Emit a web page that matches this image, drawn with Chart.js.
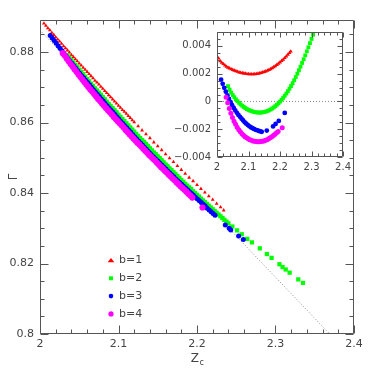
<!DOCTYPE html>
<html><head><meta charset="utf-8">
<script src="https://cdn.jsdelivr.net/npm/chart.js@4.4.0/dist/chart.umd.min.js"></script>
<style>
html,body{margin:0;padding:0;background:#fff;}
#wrap{position:relative;width:374px;height:374px;overflow:hidden;}
#main{position:absolute;left:0;top:0;}
#inset{position:absolute;left:160px;top:20px;}
</style></head><body>
<div id="wrap"><canvas id="main" width="374" height="374"></canvas><canvas id="inset" width="195" height="160"></canvas></div>
<script>
// ---------------- data ----------------
const xTickVals = [2, 2.1, 2.2, 2.3, 2.4];
const xTickLabels = ['2', '2.1', '2.2', '2.3', '2.4'];
const yTickVals = [0.8, 0.82, 0.84, 0.86, 0.88];
const yTickLabels = ['0.8', '0.82', '0.84', '0.86', '0.88'];
const insetYTickVals = [-0.004, -0.002, 0, 0.002, 0.004];
const insetYTickLabels = ['\u22120.004', '\u22120.002', '0', '0.002', '0.004'];
const seriesNames = ['b=1', 'b=2', 'b=3', 'b=4'];

// reference (dotted) line in the main panel
const refLineZ = [2.0, 2.369];
const refLineGamma = [0.8862, 0.8];
// zero line in the inset
const zeroLineZ = [2.0, 2.4];
const zeroLineDev = [0, 0];

// b=1
const redZ = [2.005,2.010,2.015,2.020,2.025,2.030,2.035,2.040,2.045,2.050,2.055,2.060,2.065,2.070,2.075,2.080,2.085,2.090,2.095,2.100,2.105,2.110,2.115,2.120,2.125,2.130,2.135,2.140,2.145,2.150,2.155,2.160,2.165,2.170,2.175,2.180,2.185,2.190,2.195,2.200,2.205,2.210,2.215,2.220,2.225,2.230,2.234];
const redGamma = [0.8881,0.8868,0.8855,0.8842,0.8830,0.8817,0.8805,0.8792,0.8780,0.8768,0.8756,0.8744,0.8732,0.8719,0.8708,0.8696,0.8684,0.8672,0.8660,0.8648,0.8636,0.8625,0.8613,0.8601,0.8590,0.8578,0.8567,0.8556,0.8544,0.8533,0.8522,0.8510,0.8499,0.8488,0.8477,0.8466,0.8455,0.8444,0.8434,0.8423,0.8412,0.8402,0.8391,0.8381,0.8370,0.8360,0.8351];
const redExtraZ = [2.0075,2.0125,2.0175,2.0225,2.0275,2.0325,2.0375,2.0425,2.0475,2.0525,2.0575,2.0625,2.0675,2.0725,2.0775,2.0825,2.0875,2.0925,2.0975,2.1025,2.1075,2.1125,2.1175];
const redExtraGamma = [0.8875,0.8862,0.8849,0.8836,0.8824,0.8811,0.8799,0.8786,0.8774,0.8762,0.8750,0.8738,0.8726,0.8714,0.8702,0.8690,0.8678,0.8666,0.8654,0.8642,0.8631,0.8619,0.8607];
const redDev = [0.0031,0.0029,0.0028,0.0027,0.0026,0.0025,0.00244,0.00238,0.00232,0.00227,0.00222,0.00218,0.00214,0.0021,0.00207,0.00204,0.00202,0.002,0.00198,0.00197,0.00196,0.00196,0.00196,0.00197,0.00198,0.002,0.00203,0.00206,0.00209,0.00213,0.00217,0.00222,0.00227,0.00233,0.0024,0.00247,0.00255,0.00263,0.00272,0.00282,0.00292,0.00302,0.00313,0.00325,0.00337,0.0035,0.0036];

// b=2
const greenZ = [2.035,2.040,2.045,2.050,2.055,2.060,2.065,2.070,2.075,2.080,2.085,2.090,2.095,2.100,2.105,2.110,2.115,2.120,2.125,2.130,2.135,2.140,2.145,2.150,2.155,2.160,2.165,2.170,2.175,2.180,2.185,2.190,2.195,2.200,2.205,2.210,2.215,2.220,2.225,2.230,2.235,2.240,2.245,2.251,2.257,2.264,2.270,2.280,2.289,2.295,2.305,2.309,2.313,2.318,2.329,2.335];
const greenGamma = [0.8791,0.8777,0.8763,0.8750,0.8737,0.8723,0.8710,0.8697,0.8685,0.8672,0.8659,0.8647,0.8635,0.8622,0.8610,0.8598,0.8586,0.8574,0.8562,0.8550,0.8539,0.8527,0.8515,0.8504,0.8493,0.8481,0.8470,0.8459,0.8448,0.8437,0.8426,0.8416,0.8405,0.8395,0.8384,0.8374,0.8364,0.8354,0.8344,0.8334,0.8324,0.8314,0.8305,0.8294,0.8283,0.8270,0.8260,0.8243,0.8227,0.8216,0.8198,0.8190,0.8183,0.8174,0.8155,0.8145];
const greenExtraZ = [2.0375,2.0425,2.0475,2.0525,2.0575,2.0625,2.0675,2.0725,2.0775,2.0825,2.0875,2.0925,2.0975,2.1025,2.1075,2.1125,2.1175,2.1225,2.1275,2.1325,2.1375,2.1425,2.1475,2.1525,2.1575,2.1625,2.1675,2.1725,2.1775,2.1825,2.1875,2.1925,2.1975,2.2025,2.2075,2.2125,2.2175,2.2225,2.2275,2.2325,2.2375];
const greenExtraGamma = [0.8784,0.8770,0.8757,0.8744,0.8730,0.8717,0.8704,0.8691,0.8679,0.8666,0.8653,0.8641,0.8629,0.8616,0.8604,0.8592,0.8580,0.8568,0.8556,0.8545,0.8533,0.8521,0.8510,0.8499,0.8487,0.8476,0.8465,0.8454,0.8443,0.8432,0.8421,0.8411,0.8400,0.8390,0.8379,0.8369,0.8359,0.8349,0.8339,0.8329,0.8319];
const greenInsetZ = [2.035,2.040,2.045,2.050,2.055,2.060,2.065,2.070,2.075,2.080,2.085,2.090,2.095,2.100,2.105,2.110,2.115,2.120,2.125,2.130,2.135,2.140,2.145,2.150,2.155,2.160,2.165,2.170,2.175,2.180,2.185,2.190,2.195,2.200,2.205,2.210,2.215,2.220,2.225,2.230,2.235,2.240,2.245,2.250,2.255,2.260,2.265,2.270,2.275,2.280,2.285,2.290,2.295,2.300,2.305,2.310];
const greenDev = [0.0011,0.00085,0.00064,0.00046,0.0003,0.00015,0.00002,-0.0001,-0.00021,-0.00031,-0.0004,-0.00048,-0.00055,-0.00061,-0.00066,-0.0007,-0.00074,-0.00077,-0.00079,-0.0008,-0.0008,-0.0008,-0.00078,-0.00076,-0.00073,-0.00069,-0.00064,-0.00058,-0.00051,-0.00043,-0.00034,-0.00024,-0.00013,-0.00001,0.00012,0.00026,0.00041,0.00057,0.00074,0.00092,0.00111,0.00131,0.00153,0.00176,0.002,0.00225,0.0025,0.00277,0.00304,0.00332,0.00361,0.0039,0.0042,0.0045,0.0048,0.0051];

// b=3
const blueZ = [2.013,2.018,2.023,2.028,2.033,2.038,2.043,2.048,2.053,2.058,2.063,2.068,2.073,2.078,2.083,2.088,2.093,2.098,2.103,2.108,2.113,2.118,2.123,2.128,2.133,2.138,2.143,2.148,2.153,2.158,2.163,2.168,2.173,2.178,2.183,2.188,2.193,2.198,2.203,2.208,2.213,2.218,2.223,2.236,2.241,2.243,2.253,2.259];
const blueGamma = [0.8847,0.8833,0.8818,0.8804,0.8789,0.8775,0.8761,0.8747,0.8733,0.8720,0.8707,0.8693,0.8680,0.8667,0.8654,0.8641,0.8629,0.8616,0.8603,0.8591,0.8579,0.8566,0.8554,0.8542,0.8530,0.8518,0.8506,0.8495,0.8484,0.8473,0.8462,0.8451,0.8440,0.8430,0.8419,0.8409,0.8399,0.8388,0.8378,0.8368,0.8357,0.8347,0.8337,0.8309,0.8300,0.8295,0.8278,0.8268];
const blueExtraZ = [2.0155,2.0205,2.0255,2.0305,2.0355,2.0405,2.0455,2.0505,2.0555,2.0605,2.0655,2.0705,2.0755,2.0805,2.0855,2.0905,2.0955,2.1005,2.1055,2.1105,2.1155,2.1205,2.1255,2.1305,2.1355,2.1405,2.1455,2.1505,2.1555,2.1605,2.1655,2.1705,2.1755,2.1805,2.1855,2.1905,2.1955,2.2005,2.2055,2.2105,2.2155,2.2205];
const blueExtraGamma = [0.8840,0.8826,0.8811,0.8797,0.8782,0.8768,0.8754,0.8740,0.8727,0.8714,0.8700,0.8687,0.8674,0.8661,0.8648,0.8635,0.8623,0.8610,0.8597,0.8585,0.8573,0.8560,0.8548,0.8536,0.8524,0.8512,0.8501,0.8490,0.8479,0.8468,0.8457,0.8446,0.8435,0.8425,0.8414,0.8404,0.8394,0.8383,0.8373,0.8363,0.8352,0.8342];
const blueInsetZ = [2.013,2.018,2.023,2.028,2.033,2.038,2.043,2.048,2.053,2.058,2.063,2.068,2.073,2.078,2.083,2.088,2.093,2.098,2.103,2.108,2.113,2.118,2.123,2.128,2.133,2.138,2.142,2.158,2.178,2.186,2.196,2.215];
const blueDev = [0.00157,0.00127,0.00098,0.0007,0.00043,0.00018,-0.00005,-0.00027,-0.00047,-0.00065,-0.00082,-0.00097,-0.00111,-0.00124,-0.00137,-0.0015,-0.0016,-0.0017,-0.00179,-0.00187,-0.00193,-0.00199,-0.00204,-0.00208,-0.00212,-0.00216,-0.00219,-0.0021,-0.0018,-0.00162,-0.0014,-0.00083];

// b=4
const magentaZ = [2.029,2.034,2.039,2.044,2.049,2.054,2.059,2.064,2.069,2.074,2.079,2.084,2.089,2.094,2.099,2.104,2.109,2.114,2.119,2.124,2.129,2.134,2.139,2.144,2.149,2.154,2.159,2.164,2.169,2.174,2.179,2.184,2.189,2.194,2.207];
const magentaGamma = [0.8797,0.8782,0.8766,0.8751,0.8736,0.8722,0.8708,0.8694,0.8681,0.8667,0.8654,0.8641,0.8629,0.8616,0.8604,0.8592,0.8579,0.8567,0.8555,0.8543,0.8532,0.8520,0.8508,0.8497,0.8486,0.8474,0.8463,0.8452,0.8441,0.8430,0.8419,0.8409,0.8398,0.8387,0.8359];
const magentaExtraZ = [2.0315,2.0365,2.0415,2.0465,2.0515,2.0565,2.0615,2.0665,2.0715,2.0765,2.0815,2.0865,2.0915,2.0965,2.1015,2.1065,2.1115,2.1165,2.1215,2.1265,2.1315,2.1365,2.1415,2.1465,2.1515,2.1565,2.1615,2.1665,2.1715,2.1765,2.1815,2.1865,2.1915];
const magentaExtraGamma = [0.8790,0.8774,0.8759,0.8744,0.8729,0.8715,0.8701,0.8688,0.8674,0.8661,0.8648,0.8635,0.8623,0.8610,0.8598,0.8586,0.8573,0.8561,0.8549,0.8538,0.8526,0.8514,0.8503,0.8492,0.8480,0.8469,0.8458,0.8447,0.8436,0.8425,0.8414,0.8404,0.8393];
const magentaDev = [0.0003,-0.0001,-0.0005,-0.00085,-0.00115,-0.00142,-0.00165,-0.00185,-0.00203,-0.00218,-0.00232,-0.00244,-0.00254,-0.00262,-0.00269,-0.00275,-0.0028,-0.00284,-0.00287,-0.00289,-0.0029,-0.0029,-0.00289,-0.00287,-0.00284,-0.0028,-0.00275,-0.00269,-0.00262,-0.00254,-0.00245,-0.00236,-0.00226,-0.00216,-0.0019];

// ---------------- styling ----------------
const FONT = '"DejaVu Sans", sans-serif';
const TEXT = '#444';
const FRAME = '#555';
const COLORS = ['#ff0000', '#00ff00', '#0000ff', '#ff00ff'];
const STYLES = ['triangle', 'rect', 'circle', 'circle'];

Chart.defaults.font.family = FONT;
Chart.defaults.color = TEXT;

function pts(xs, ys) { return xs.map((x, i) => ({ x: x, y: ys[i] })); }

function markerSet(label, idx, data, r, order) {
  return {
    label: label, data: data, pointStyle: STYLES[idx], pointRadius: r,
    pointHoverRadius: r, backgroundColor: COLORS[idx], borderColor: COLORS[idx],
    borderWidth: 0, showLine: false, order: order, clip: 0
  };
}
function lineSet(xs, ys, order) {
  return {
    data: pts(xs, ys), showLine: true, pointRadius: 0, borderColor: '#8a8a8a',
    borderWidth: 1, borderDash: [1, 2], fill: false, order: order, clip: 0
  };
}

function drawMarker(ctx, style, x, y, r, color) {
  ctx.fillStyle = color;
  ctx.beginPath();
  if (style === 'circle') { ctx.arc(x, y, r, 0, Math.PI * 2); }
  else if (style === 'rect') { const s = r * Math.SQRT1_2; ctx.rect(x - s, y - s, 2 * s, 2 * s); }
  else {
    const h = r * 1.5, w = r * 0.866 * 1.5;
    ctx.moveTo(x, y - h * 0.66); ctx.lineTo(x + w, y + h * 0.34 + 0.5); ctx.lineTo(x - w, y + h * 0.34 + 0.5); ctx.closePath();
  }
  ctx.fill();
}

function framePlugin(o) {
  return {
    id: o.id,
    afterDatasetsDraw(chart) {
      const ctx = chart.ctx, a = chart.chartArea, xs = chart.scales.x, ys = chart.scales.y;
      const L = Math.round(a.left) + 0.5, R = Math.round(a.right) - 0.5;
      const T = Math.round(a.top) + 0.5, B = Math.round(a.bottom) - 0.5;
      ctx.save();
      ctx.strokeStyle = FRAME; ctx.lineWidth = 1;
      ctx.beginPath();
      ctx.rect(L, T, R - L, B - T);
      const isMajor = (v, list) => list.some(m => Math.abs(m - v) < o.eps);
      for (let i = 0; i <= o.xCount; i++) {
        const v = o.xStart + i * o.xStep;
        const len = isMajor(v, xTickVals) ? o.major : o.minor;
        const p = Math.round(xs.getPixelForValue(v)) + 0.5;
        if (p < L - 1 || p > R + 1) continue;
        ctx.moveTo(p, B); ctx.lineTo(p, B - len);
        ctx.moveTo(p, T); ctx.lineTo(p, T + len);
      }
      for (let i = 0; i <= o.yCount; i++) {
        const v = o.yStart + i * o.yStep;
        const len = isMajor(v, o.yMajors) ? o.major : o.minor;
        const p = Math.round(ys.getPixelForValue(v)) + 0.5;
        if (p < T - 1 || p > B + 1) continue;
        ctx.moveTo(L, p); ctx.lineTo(L + len, p);
        ctx.moveTo(R, p); ctx.lineTo(R - len, p);
      }
      ctx.stroke();
      ctx.restore();
    }
  };
}

const mainExtras = {
  id: 'mainExtras',
  afterDraw(chart) {
    const ctx = chart.ctx, a = chart.chartArea;
    ctx.save();
    ctx.fillStyle = TEXT;
    ctx.save();
    ctx.translate(14, (a.top + a.bottom) / 2);
    ctx.rotate(-Math.PI / 2);
    ctx.font = '12px ' + FONT; ctx.textAlign = 'center'; ctx.textBaseline = 'middle';
    ctx.fillText('\u0393', 0, 0);
    ctx.restore();
    const cx = (a.left + a.right) / 2;
    ctx.font = '12px ' + FONT; ctx.textAlign = 'right'; ctx.textBaseline = 'alphabetic';
    ctx.fillText('Z', cx + 2, 362);
    ctx.font = '8px ' + FONT; ctx.textAlign = 'left';
    ctx.fillText('c', cx + 2.5, 365);
    const radii = [2.6, 2.8, 2.3, 2.6];
    ctx.font = '11px ' + FONT; ctx.textAlign = 'left'; ctx.textBaseline = 'middle';
    for (let i = 0; i < seriesNames.length; i++) {
      const y = 260.5 + i * 17.8;
      drawMarker(ctx, STYLES[i], 111, y, radii[i], COLORS[i]);
      ctx.fillStyle = TEXT;
      ctx.fillText(seriesNames[i], 119, y);
    }
    ctx.restore();
  }
};

// ---------------- main chart ----------------
new Chart(document.getElementById('main'), {
  type: 'scatter',
  data: {
    datasets: [
      lineSet(refLineZ, refLineGamma, 9),
      markerSet(seriesNames[0], 0, pts(redZ, redGamma).concat(pts(redExtraZ, redExtraGamma)), 2.2, 4),
      markerSet(seriesNames[1], 1, pts(greenZ, greenGamma).concat(pts(greenExtraZ, greenExtraGamma)), 3.0, 3),
      markerSet(seriesNames[2], 2, pts(blueZ, blueGamma).concat(pts(blueExtraZ, blueExtraGamma)), 2.5, 2),
      markerSet(seriesNames[3], 3, pts(magentaZ, magentaGamma).concat(pts(magentaExtraZ, magentaExtraGamma)), 3.1, 1)
    ]
  },
  options: {
    responsive: false, animation: false, devicePixelRatio: 1, events: [],
    layout: { padding: { top: 20, right: 20, left: 0, bottom: 0 } },
    plugins: { legend: { display: false }, tooltip: { enabled: false } },
    scales: {
      x: {
        type: 'linear', min: 2, max: 2.4,
        grid: { display: false, drawTicks: false }, border: { display: false },
        afterBuildTicks: s => { s.ticks = xTickVals.map(v => ({ value: v })); },
        afterFit: s => { s.height = 40; },
        ticks: { autoSkip: false, maxRotation: 0, padding: 4, font: { size: 11 }, color: TEXT,
          callback: (v, i) => xTickLabels[i] }
      },
      y: {
        type: 'linear', min: 0.8, max: 0.8891,
        grid: { display: false, drawTicks: false }, border: { display: false },
        afterBuildTicks: s => { s.ticks = yTickVals.map(v => ({ value: v })); },
        afterFit: s => { s.width = 40; },
        ticks: { autoSkip: false, padding: 6, font: { size: 11 }, color: TEXT,
          callback: (v, i) => yTickLabels[i] }
      }
    }
  },
  plugins: [framePlugin({ id: 'mainFrame', xStart: 2, xStep: 0.02, xCount: 20,
    yStart: 0.8, yStep: 0.005, yCount: 17, yMajors: yTickVals, major: 8, minor: 4, eps: 1e-6 }), mainExtras]
});

// ---------------- inset chart ----------------
new Chart(document.getElementById('inset'), {
  type: 'scatter',
  data: {
    datasets: [
      lineSet(zeroLineZ, zeroLineDev, 9),
      markerSet(seriesNames[0], 0, pts(redZ, redDev), 2.3, 4),
      markerSet(seriesNames[1], 1, pts(greenInsetZ, greenDev), 2.7, 3),
      markerSet(seriesNames[2], 2, pts(blueInsetZ, blueDev), 2.4, 2),
      markerSet(seriesNames[3], 3, pts(magentaZ, magentaDev), 2.5, 1)
    ]
  },
  options: {
    responsive: false, animation: false, devicePixelRatio: 1, events: [],
    layout: { padding: { top: 11, right: 11, left: 0, bottom: 0 } },
    plugins: { legend: { display: false }, tooltip: { enabled: false } },
    scales: {
      x: {
        type: 'linear', min: 2, max: 2.4,
        grid: { display: false, drawTicks: false }, border: { display: false },
        afterBuildTicks: s => { s.ticks = xTickVals.map(v => ({ value: v })); },
        afterFit: s => { s.height = 23; },
        ticks: { autoSkip: false, maxRotation: 0, padding: 4, font: { size: 10 }, color: TEXT,
          callback: (v, i) => xTickLabels[i] }
      },
      y: {
        type: 'linear', min: -0.004, max: 0.005,
        grid: { display: false, drawTicks: false }, border: { display: false },
        afterBuildTicks: s => { s.ticks = insetYTickVals.map(v => ({ value: v })); },
        afterFit: s => { s.width = 57; },
        ticks: { autoSkip: false, padding: 6, font: { size: 10 }, color: TEXT,
          callback: (v, i) => insetYTickLabels[i] }
      }
    }
  },
  plugins: [framePlugin({ id: 'insetFrame', xStart: 2, xStep: 0.02, xCount: 20,
    yStart: -0.004, yStep: 0.0005, yCount: 18, yMajors: insetYTickVals, major: 5, minor: 3, eps: 1e-9 })]
});
</script>
</body></html>
